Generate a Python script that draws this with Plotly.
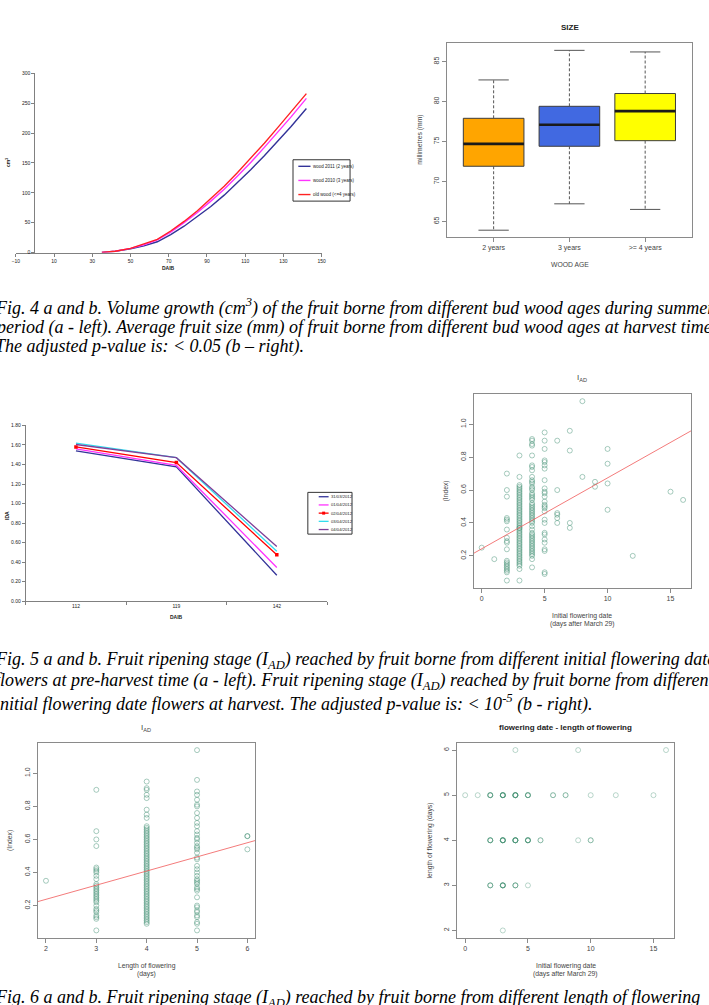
import plotly.graph_objects as go

W, H = 709, 1005

# ---------------- Fig 4a : volume growth (cm3) vs DAIB ----------------
vol_daib = [35, 42, 50, 57, 64, 71, 78, 85, 92, 99, 106, 113, 120, 127, 134, 142]
vol_wood2011 = [0, 2, 6, 11, 18, 30, 44, 60, 77, 96, 117, 139, 162, 186, 211, 241]
vol_wood2010 = [0, 2, 7, 13, 21, 34, 50, 67, 86, 106, 128, 151, 176, 201, 227, 258]
vol_oldwood = [0, 2, 7, 14, 22, 36, 52, 70, 90, 111, 134, 158, 183, 209, 235, 266]
vol_names = ["wood 2011 (2 years)", "wood 2010 (3 years)", "old wood (&lt;=4 years)"]
vol_colors = ["#333399", "#FF33FF", "#FF2222"]
vol_xticks = [-10, 10, 30, 50, 70, 90, 110, 130, 150]

# ---------------- Fig 4b : box plot SIZE ----------------
box_groups = ["2 years", "3 years", "&gt;= 4 years"]
box_lower = [63.9, 67.2, 66.5]
box_q1 = [71.9, 74.4, 75.1]
box_median = [74.7, 77.1, 78.8]
box_q3 = [77.9, 79.4, 81.0]
box_upper = [82.7, 86.4, 86.2]
box_colors = ["#FFA500", "#4169E1", "#FFFF00"]

# ---------------- Fig 5a : IDA vs DAIB ----------------
ida_daib = ["112", "119", "142"]
ida_names = ["31/03/2012", "01/04/2012", "02/04/2012", "03/04/2012", "04/04/2012"]
ida_3103 = [1.54, 1.375, 0.265]
ida_0104 = [1.56, 1.39, 0.345]
ida_0204 = [1.58, 1.42, 0.475]
ida_0304 = [1.62, 1.47, 0.51]
ida_0404 = [1.605, 1.47, 0.56]
ida_colors = ["#333399", "#FF33FF", "#FF0000", "#33DDEE", "#7F3F98"]

# ---------------- Fig 5b : IAD vs initial flowering date ----------------
iad_by_date = {
    0: [0.25],
    1: [0.18],
    2: [0.70, 0.60, 0.56, 0.43, 0.42, 0.41, 0.36, 0.31, 0.29, 0.28, 0.24, 0.17, 0.16,
        0.15, 0.14, 0.13, 0.12, 0.11, 0.10, 0.05],
    3: [0.81, 0.68, 0.63, 0.62, 0.61, 0.60, 0.59, 0.58, 0.57, 0.56, 0.55, 0.54, 0.53,
        0.52, 0.51, 0.50, 0.49, 0.48, 0.47, 0.46, 0.45, 0.44, 0.43, 0.42, 0.41, 0.40,
        0.39, 0.38, 0.37, 0.37, 0.36, 0.35, 0.34, 0.33, 0.32, 0.31, 0.30, 0.29, 0.28,
        0.27, 0.26, 0.25, 0.24, 0.23, 0.22, 0.21, 0.20, 0.19, 0.18, 0.17, 0.16, 0.15,
        0.14, 0.12, 0.05],
    4: [0.91, 0.90, 0.88, 0.87, 0.81, 0.75, 0.74, 0.72, 0.68, 0.66, 0.65, 0.64, 0.62,
        0.61, 0.60, 0.58, 0.57, 0.56, 0.55, 0.54, 0.52, 0.51, 0.50, 0.49, 0.48, 0.47,
        0.46, 0.45, 0.44, 0.43, 0.42, 0.41, 0.40, 0.38, 0.36, 0.34, 0.33, 0.32, 0.31,
        0.30, 0.29, 0.28, 0.27, 0.26, 0.25, 0.24, 0.23, 0.22, 0.21, 0.20, 0.18, 0.13],
    5: [0.95, 0.90, 0.85, 0.78, 0.77, 0.75, 0.73, 0.66, 0.61, 0.59, 0.58, 0.56, 0.53,
        0.51, 0.50, 0.49, 0.47, 0.42, 0.40, 0.34, 0.33, 0.30, 0.28, 0.24, 0.23, 0.10, 0.09],
    6: [0.90, 0.60, 0.46, 0.45, 0.43, 0.40],
    7: [0.96, 0.84, 0.40, 0.37],
    8: [1.14, 0.68],
    9: [0.65, 0.62],
    10: [0.85, 0.76, 0.64, 0.48],
    12: [0.20],
    15: [0.59],
    16: [0.54],
}
fit_date_intercept, fit_date_slope = 0.243, 0.0431

# ---------------- Fig 6a : IAD vs length of flowering ----------------
iad_by_length = {
    2: [0.35],
    3: [0.90, 0.65, 0.60, 0.56, 0.43, 0.42, 0.41, 0.40, 0.38, 0.36, 0.33, 0.32, 0.31,
        0.30, 0.29, 0.28, 0.27, 0.26, 0.25, 0.24, 0.23, 0.22, 0.20, 0.18, 0.17, 0.16,
        0.14, 0.13, 0.12, 0.05],
    4: [0.95, 0.91, 0.90, 0.87, 0.85, 0.78, 0.75, 0.73, 0.68, 0.67, 0.66, 0.65, 0.64,
        0.63, 0.62, 0.61, 0.60, 0.59, 0.58, 0.57, 0.56, 0.55, 0.54, 0.53, 0.52, 0.51,
        0.50, 0.49, 0.48, 0.47, 0.46, 0.45, 0.44, 0.43, 0.42, 0.41, 0.40, 0.39, 0.38,
        0.37, 0.36, 0.35, 0.34, 0.33, 0.32, 0.31, 0.30, 0.29, 0.28, 0.27, 0.26, 0.25,
        0.24, 0.23, 0.22, 0.21, 0.20, 0.19, 0.18, 0.17, 0.16, 0.15, 0.14, 0.13, 0.12,
        0.11, 0.10, 0.09],
    5: [1.14, 0.96, 0.89, 0.87, 0.84, 0.81, 0.80, 0.76, 0.73, 0.70, 0.68, 0.65, 0.63,
        0.61, 0.60, 0.58, 0.56, 0.55, 0.54, 0.52, 0.49, 0.48, 0.44, 0.42, 0.40, 0.38,
        0.36, 0.35, 0.34, 0.33, 0.31, 0.30, 0.29, 0.25, 0.20, 0.19, 0.17, 0.16, 0.14,
        0.13, 0.10, 0.09, 0.05],
    6: [0.62, 0.62, 0.54],
}
fit_len_intercept, fit_len_slope = 0.067, 0.0855

# ---------------- Fig 6b : length of flowering vs initial date ----------------
fd_date = [4, 9, 16, 0, 1, 2, 3, 4, 5, 7, 8, 10, 12, 15, 2, 3, 4, 5, 6, 9, 10, 2, 3, 4, 5, 3]
fd_len = [6, 6, 6, 5, 5, 5, 5, 5, 5, 5, 5, 5, 5, 5, 4, 4, 4, 4, 4, 4, 4, 3, 3, 3, 3, 2]
fd_count = [1, 1, 1, 1, 1, 4, 6, 6, 4, 2, 2, 1, 1, 1, 4, 6, 6, 5, 2, 1, 2, 3, 5, 3, 1, 1]

# =====================================================================
PT_COLOR = "rgba(60,140,110,0.45)"
FIT_COLOR = "rgba(240,90,90,0.8)"
R_LINE = "#8a8a8a"
R_TXT = "#444444"
SANS = "Liberation Sans"


def dx(a, b):
    return [a / W, b / W]


def dy(top, bottom):
    return [1 - bottom / H, 1 - top / H]


def ann(text, x, y, size, color=R_TXT, bold=False, angle=0, family=SANS,
        xanchor="center", yanchor="middle"):
    return dict(text=("<b>" + text + "</b>") if bold else text, x=x / W, y=1 - y / H,
                xref="paper", yref="paper", showarrow=False, textangle=angle,
                font=dict(size=size, color=color, family=family),
                xanchor=xanchor, yanchor=yanchor)


fig = go.Figure()

# ---- chart 1 lines
for vals, name, col in zip([vol_wood2011, vol_wood2010, vol_oldwood], vol_names, vol_colors):
    fig.add_trace(go.Scatter(x=vol_daib, y=vals, mode="lines", name=name,
                             line=dict(color=col, width=1.4), xaxis="x", yaxis="y",
                             showlegend=False))

# ---- chart 2 boxes
for i, (g, lo, q1, md, q3, up, col) in enumerate(zip(box_groups, box_lower, box_q1, box_median,
                                                    box_q3, box_upper, box_colors)):
    p = i + 1
    fig.add_trace(go.Box(x=[p], q1=[q1], median=[md], q3=[q3], lowerfence=[q1],
                         upperfence=[q3], width=0.8, whiskerwidth=0, fillcolor=col,
                         line=dict(color="#3c3c3c", width=1), boxpoints=False,
                         xaxis="x2", yaxis="y2", showlegend=False, hoverinfo="skip"))
    fig.add_trace(go.Scatter(x=[p, p, None, p, p], y=[q3, up, None, q1, lo], mode="lines",
                             line=dict(color="#555555", width=1, dash="3px,2px"),
                             xaxis="x2", yaxis="y2", showlegend=False))
    fig.add_trace(go.Scatter(x=[p - 0.2, p + 0.2, None, p - 0.2, p + 0.2],
                             y=[up, up, None, lo, lo], mode="lines",
                             line=dict(color="#555555", width=1),
                             xaxis="x2", yaxis="y2", showlegend=False))
    fig.add_trace(go.Scatter(x=[p - 0.4, p + 0.4], y=[md, md], mode="lines",
                             line=dict(color="#1a1a1a", width=2.6),
                             xaxis="x2", yaxis="y2", showlegend=False))

# ---- chart 3 lines
for vals, name, col in zip([ida_3103, ida_0104, ida_0204, ida_0304, ida_0404], ida_names, ida_colors):
    mk = name == "02/04/2012"
    fig.add_trace(go.Scatter(x=ida_daib, y=vals, mode="lines+markers" if mk else "lines",
                             name=name, line=dict(color=col, width=1.3),
                             marker=dict(symbol="square", size=3.5, color=col),
                             xaxis="x3", yaxis="y3", showlegend=False))

# ---- chart 4 scatter
xs4, ys4 = [], []
for d, vals in iad_by_date.items():
    xs4 += [d] * len(vals)
    ys4 += vals
fig.add_trace(go.Scatter(x=xs4, y=ys4, mode="markers",
                         marker=dict(symbol="circle-open", size=5, color=PT_COLOR,
                                     line=dict(width=1)),
                         xaxis="x4", yaxis="y4", showlegend=False))
fx = [-2, 20]
fig.add_trace(go.Scatter(x=fx, y=[fit_date_intercept + fit_date_slope * v for v in fx],
                         mode="lines", line=dict(color=FIT_COLOR, width=1),
                         xaxis="x4", yaxis="y4", showlegend=False))

# ---- chart 5 scatter
xs5, ys5 = [], []
for d, vals in iad_by_length.items():
    xs5 += [d] * len(vals)
    ys5 += vals
fig.add_trace(go.Scatter(x=xs5, y=ys5, mode="markers",
                         marker=dict(symbol="circle-open", size=5, color=PT_COLOR,
                                     line=dict(width=1)),
                         xaxis="x5", yaxis="y5", showlegend=False))
fx = [1, 7]
fig.add_trace(go.Scatter(x=fx, y=[fit_len_intercept + fit_len_slope * v for v in fx],
                         mode="lines", line=dict(color=FIT_COLOR, width=1),
                         xaxis="x5", yaxis="y5", showlegend=False))

# ---- chart 6 scatter
xs6, ys6 = [], []
for d, l, c in zip(fd_date, fd_len, fd_count):
    xs6 += [d] * c
    ys6 += [l] * c
fig.add_trace(go.Scatter(x=xs6, y=ys6, mode="markers",
                         marker=dict(symbol="circle-open", size=5, color="rgba(60,140,110,0.35)",
                                     line=dict(width=1)),
                         xaxis="x6", yaxis="y6", showlegend=False))

# ================= axes =================
excel_ax = dict(showgrid=False, zeroline=False, showline=True, linecolor="#808080",
                linewidth=1, ticks="outside", tickcolor="#808080", ticklen=3,
                tickfont=dict(size=5, color="#222222", family=SANS))
r_ax = dict(showgrid=False, zeroline=False, showline=True, mirror=True, linecolor=R_LINE,
            linewidth=1, ticks="outside", tickcolor=R_LINE, ticklen=4,
            tickfont=dict(size=7, color=R_TXT, family=SANS))

fig.update_layout(
    width=W, height=H, margin=dict(l=0, r=0, t=0, b=0),
    paper_bgcolor="white", plot_bgcolor="white", showlegend=False,
    xaxis=dict(domain=dx(12, 321.3), range=[-10, 150], tickvals=vol_xticks, anchor="y", **excel_ax),
    yaxis=dict(domain=dy(70.7, 251), range=[0, 300], dtick=50, anchor="free",
               position=30.7 / W, **excel_ax),
    xaxis2=dict(domain=dx(447.7, 696), range=[0.38, 3.62], tickvals=[1, 2, 3],
                ticktext=box_groups, anchor="y2", **r_ax),
    yaxis2=dict(domain=dy(40, 235), range=[63.1, 87.35], tickvals=[65, 70, 75, 80, 85],
                tickangle=-90, anchor="x2", **r_ax),
    xaxis3=dict(domain=dx(22, 326.7), type="category", categoryorder="array",
                categoryarray=ida_daib, range=[-0.5, 2.5], tickson="boundaries",
                anchor="y3", **excel_ax),
    yaxis3=dict(domain=dy(425, 601.7), range=[0, 1.8], dtick=0.2, tickformat=".2f",
                anchor="x3", **excel_ax),
    xaxis4=dict(domain=dx(475, 695), range=[-0.64, 16.64], tickvals=[0, 5, 10, 15],
                anchor="y4", **r_ax),
    yaxis4=dict(domain=dy(393.3, 588.3), range=[0.006, 1.184],
                tickvals=[0.2, 0.4, 0.6, 0.8, 1.0], tickformat=".1f", tickangle=-90,
                anchor="x4", **r_ax),
    xaxis5=dict(domain=dx(34.3, 254.3), range=[1.84, 6.16], tickvals=[2, 3, 4, 5, 6],
                anchor="y5", **r_ax),
    yaxis5=dict(domain=dy(744.3, 940.3), range=[0.006, 1.184],
                tickvals=[0.2, 0.4, 0.6, 0.8, 1.0], tickformat=".1f", tickangle=-90,
                anchor="x5", **r_ax),
    xaxis6=dict(domain=dx(458.3, 677.7), range=[-0.64, 16.64], tickvals=[0, 5, 10, 15],
                anchor="y6", **r_ax),
    yaxis6=dict(domain=dy(744.3, 940.3), range=[1.84, 6.16], tickvals=[2, 3, 4, 5, 6],
                tickangle=-90, anchor="x6", **r_ax),
)

annotations = []
shapes = []

# chart 1 labels + legend
annotations.append(ann("cm<sup>3</sup>", 4, 160, 5, color="#222", bold=True, angle=-90))
annotations.append(ann("DAIB", 166, 266.7, 5, color="#222", bold=True))
shapes.append(dict(type="rect", xref="paper", yref="paper", x0=292.3 / W, x1=350 / W,
                   y0=1 - 199.3 / H, y1=1 - 157.7 / H, line=dict(color="#333", width=1)))
for k, (name, col) in enumerate(zip(vol_names, vol_colors)):
    yy = 164.3 + 14.2 * k
    shapes.append(dict(type="line", xref="paper", yref="paper", x0=297.7 / W, x1=310 / W,
                       y0=1 - yy / H, y1=1 - yy / H, line=dict(color=col, width=1.4)))
    annotations.append(ann(name, 311, yy, 4.5, color="#222", xanchor="left"))

# chart 2 labels
annotations.append(ann("SIZE", 572, 24.3, 8, color="#222", bold=True))
annotations.append(ann("millimetres (mm)", 420.7, 137.5, 6.8, angle=-90))
annotations.append(ann("WOOD AGE", 572, 263.3, 6.8))

# chart 3 labels + legend
annotations.append(ann("IDA", 3, 515, 5, color="#222", bold=True, angle=-90))
annotations.append(ann("DAIB", 174, 618, 5, color="#222", bold=True))
shapes.append(dict(type="rect", xref="paper", yref="paper", x0=307.3 / W, x1=352 / W,
                   y0=1 - 534.3 / H, y1=1 - 492.3 / H, line=dict(color="#333", width=1)))
for k, (name, col) in enumerate(zip(ida_names, ida_colors)):
    yy = 496.7 + 8.25 * k
    shapes.append(dict(type="line", xref="paper", yref="paper", x0=318.3 / W, x1=328.3 / W,
                       y0=1 - yy / H, y1=1 - yy / H, line=dict(color=col, width=1.3)))
    if name == "02/04/2012":
        shapes.append(dict(type="rect", xref="paper", yref="paper", x0=321.8 / W, x1=324.8 / W,
                           y0=1 - (yy + 1.5) / H, y1=1 - (yy - 1.5) / H,
                           fillcolor=col, line=dict(width=0)))
    annotations.append(ann(name, 329, yy, 4.2, color="#222", xanchor="left"))

# chart 4 labels
annotations.append(ann("I<sub>AD</sub>", 584.3, 377.3, 8))
annotations.append(ann("(Index)", 446.7, 490.8, 6.8, angle=-90))
annotations.append(ann("Initial flowering date", 585, 616.7, 6.8))
annotations.append(ann("(days after March 29)", 585, 624.6, 6.8))

# chart 5 labels
annotations.append(ann("I<sub>AD</sub>", 144, 729, 8))
annotations.append(ann("(Index)", 6.7, 842.3, 6.8, angle=-90))
annotations.append(ann("Length of flowering", 144.3, 968.7, 6.8))
annotations.append(ann("(days)", 144.3, 976.6, 6.8))

# chart 6 labels
annotations.append(ann("flowering date - length of flowering", 568.3, 729, 8, color="#222", bold=True))
annotations.append(ann("length of flowering (days)", 431, 842.3, 6.8, angle=-90))
annotations.append(ann("Initial flowering date", 568, 968.7, 6.8))
annotations.append(ann("(days after March 29)", 568, 976.6, 6.8))

# captions
SERIF = "Liberation Serif"
caps = [
    ("Fig. 4 a and b. Volume growth (cm<sup>3</sup>) of the fruit borne from different bud wood ages during summer", 306),
    ("period (a - left). Average fruit size (mm) of fruit borne from different bud wood ages at harvest time.", 326),
    ("The adjusted p-value is: &lt; 0.05 (b – right).", 346),
    ("Fig. 5 a and b. Fruit ripening stage (I<sub>AD</sub>) reached by fruit borne from different initial flowering dates", 661),
    ("flowers at pre-harvest time (a - left). Fruit ripening stage (I<sub>AD</sub>) reached by fruit borne from different", 683),
    ("initial flowering date flowers at harvest. The adjusted p-value is: &lt; 10<sup>-5</sup> (b - right).", 704),
    ("Fig. 6 a and b. Fruit ripening stage (I<sub>AD</sub>) reached by fruit borne from different length of flowering", 1001),
]
for txt, yy in caps:
    annotations.append(ann("<i>" + txt + "</i>", -11, yy, 18, color="#000", family=SERIF,
                           xanchor="left"))

fig.update_layout(annotations=annotations, shapes=shapes)
fig.write_html("out.html")
